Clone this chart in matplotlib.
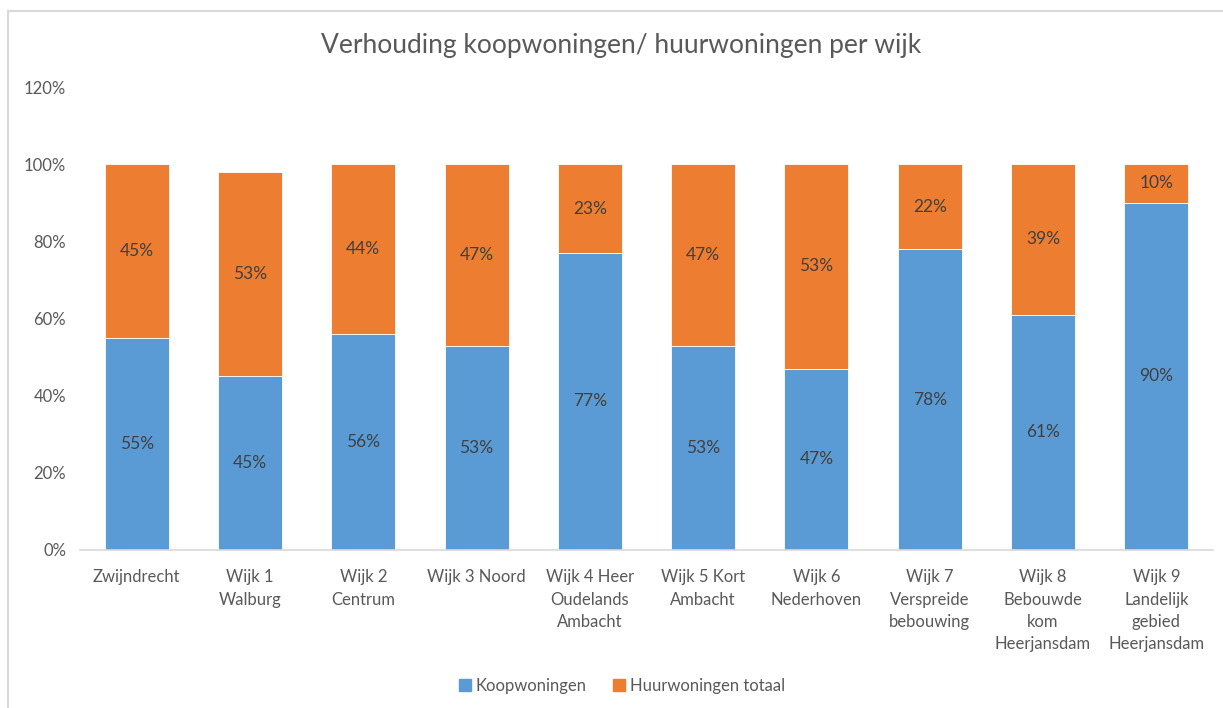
import matplotlib
matplotlib.use("Agg")
import matplotlib.pyplot as plt
from matplotlib.lines import Line2D
import numpy as np

categories = ["Zwijndrecht", "Wijk 1\nWalburg", "Wijk 2\nCentrum", "Wijk 3 Noord",
              "Wijk 4 Heer\nOudelands\nAmbacht", "Wijk 5 Kort\nAmbacht", "Wijk 6\nNederhoven",
              "Wijk 7\nVerspreide\nbebouwing", "Wijk 8\nBebouwde\nkom\nHeerjansdam",
              "Wijk 9\nLandelijk\ngebied\nHeerjansdam"]
koop = [55, 45, 56, 53, 77, 53, 47, 78, 61, 90]
huur = [45, 53, 44, 47, 23, 47, 53, 22, 39, 10]
series_names = ["Koopwoningen", "Huurwoningen totaal"]
yticks = [0, 20, 40, 60, 80, 100, 120]

plt.rcParams['font.family'] = ['Lato', 'DejaVu Sans']
W, H = 1223, 708
fig = plt.figure(figsize=(W / 100, H / 100), dpi=100)

ax = fig.add_axes([80 / W, 1 - 550 / H, (1213 - 80) / W, (550 - 87) / H])
x = np.arange(len(categories))
blue, orange = "#5B9BD5", "#ED7D31"
textc = "#595959"
ax.bar(x, koop, width=0.565, color=blue, edgecolor="white", linewidth=0.6, label=series_names[0])
ax.bar(x, huur, width=0.565, bottom=koop, color=orange, edgecolor="white", linewidth=0.6, label=series_names[1])

for i in range(len(x)):
    ax.text(x[i], koop[i] / 2, f"{koop[i]}%", ha="center", va="center", fontsize=12.5, color="#404040")
    ax.text(x[i], koop[i] + huur[i] / 2, f"{huur[i]}%", ha="center", va="center", fontsize=12.5, color="#404040")

ax.set_xlim(-0.5, len(x) - 0.5)
ax.set_ylim(0, 120)
ax.set_yticks(yticks)
ax.set_yticklabels([f"{t}%" for t in yticks], fontsize=12, color=textc)
ax.set_xticks(x)
ax.set_xticklabels(categories, fontsize=12, color=textc, linespacing=1.47)
ax.tick_params(axis="both", length=0)
ax.tick_params(axis="y", pad=10)
ax.tick_params(axis="x", pad=14)
for s in ["top", "right", "left"]:
    ax.spines[s].set_visible(False)
ax.spines["bottom"].set_color("#D9D9D9")
ax.spines["bottom"].set_linewidth(1.2)

fig.text(621 / W, 1 - 46 / H, "Verhouding koopwoningen/ huurwoningen per wijk",
         ha="center", va="center", fontsize=19, color=textc)

handles = [plt.Rectangle((0, 0), 1, 1, color=blue), plt.Rectangle((0, 0), 1, 1, color=orange)]
fig.legend(handles, series_names, loc="center", bbox_to_anchor=(622 / W, 1 - 686 / H), ncol=2,
           frameon=False, fontsize=12, labelcolor=textc, handlelength=0.7, handleheight=0.7,
           handletextpad=0.3, columnspacing=1.6)

# chart border
fig.add_artist(Line2D([8 / W, 8 / W], [0, 1 - 11 / H], color="#D9D9D9", lw=1.5, transform=fig.transFigure))
fig.add_artist(Line2D([8 / W, 1], [1 - 11 / H, 1 - 11 / H], color="#D9D9D9", lw=1.5, transform=fig.transFigure))

fig.savefig("out.png", dpi=100)
